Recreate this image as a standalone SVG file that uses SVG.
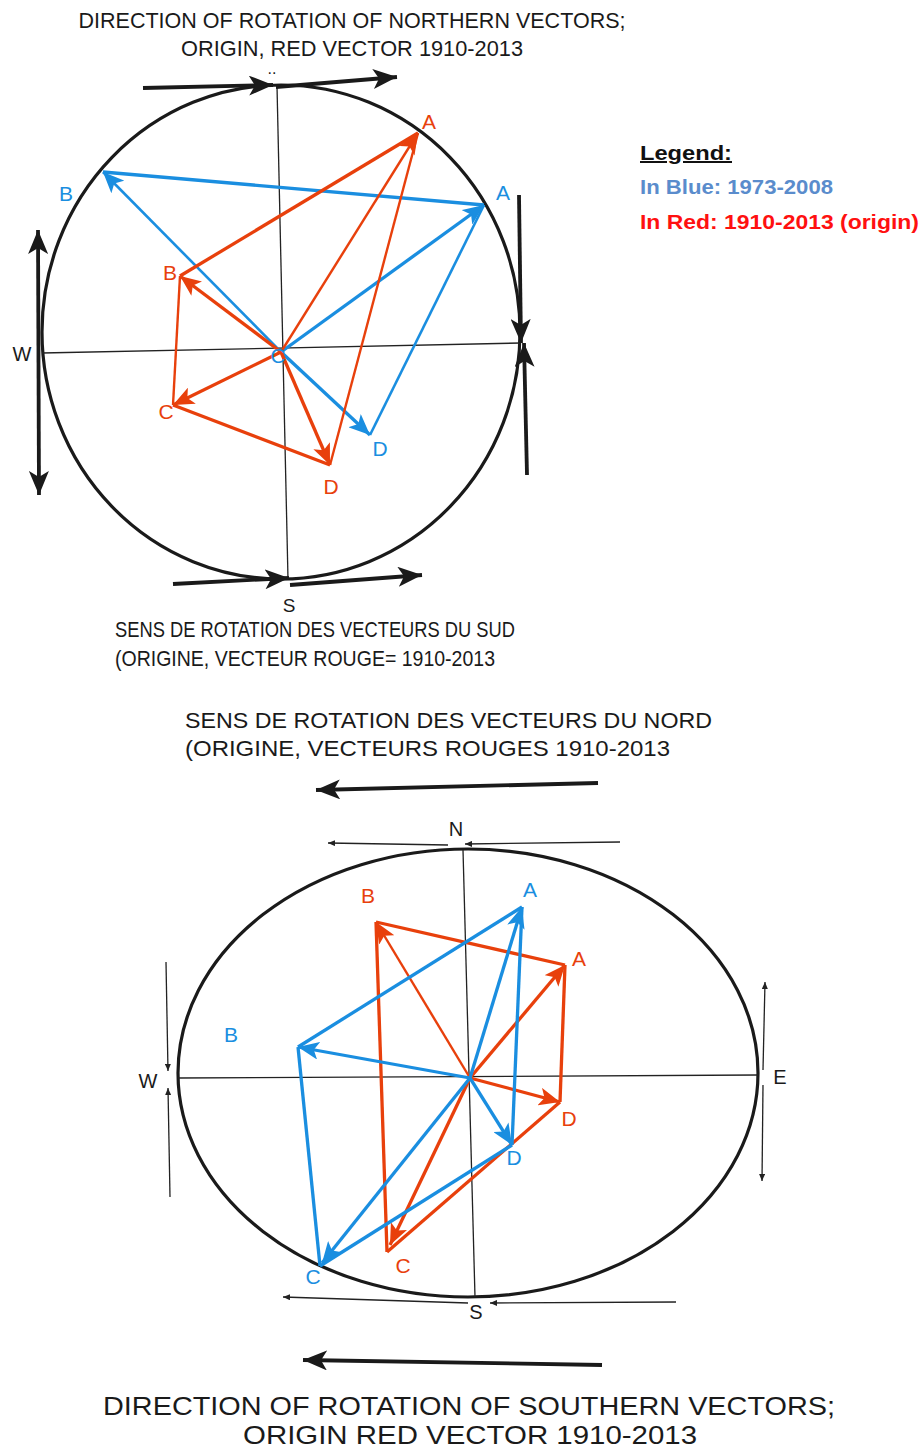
<svg xmlns="http://www.w3.org/2000/svg" width="922" height="1447" viewBox="0 0 922 1447">
<style>
.t{font-family:"Liberation Sans",Arial,sans-serif;fill:#1a1a1a}
.lbl{font-family:"Liberation Sans",Arial,sans-serif;font-size:21px;text-anchor:middle}
.rl{fill:#e8400c}.bl{fill:#1a8ee0}
.ax{stroke:#222;stroke-width:1.3;fill:none}
.circ{stroke:#1a1a1a;stroke-width:3.2;fill:none}
.big{stroke:#1a1a1a;stroke-width:3.8;fill:none}
.thin{stroke:#222;stroke-width:1.3;fill:none}
.red{stroke:#e8400c;stroke-width:3.3;fill:none}
.red2{stroke:#e8400c;stroke-width:2.4;fill:none}
.blue{stroke:#1a8ee0;stroke-width:3.3;fill:none}
.blue2{stroke:#1a8ee0;stroke-width:2.6;fill:none}
</style>
<defs>
<marker id="hb" markerUnits="userSpaceOnUse" markerWidth="26" markerHeight="20" refX="24" refY="10" orient="auto-start-reverse"><path d="M0,0 L24,10 L0,20 L6,10 Z" fill="#1a1a1a"/></marker>
<marker id="hr" markerUnits="userSpaceOnUse" markerWidth="22" markerHeight="18" refX="21" refY="9" orient="auto"><path d="M0,0 L21,9 L0,18 L5,9 Z" fill="#e8400c"/></marker>
<marker id="hbl" markerUnits="userSpaceOnUse" markerWidth="22" markerHeight="18" refX="21" refY="9" orient="auto"><path d="M0,0 L21,9 L0,18 L5,9 Z" fill="#1a8ee0"/></marker>
<marker id="hs" markerUnits="userSpaceOnUse" markerWidth="8" markerHeight="6" refX="7" refY="3" orient="auto-start-reverse"><path d="M0,0 L7,3 L0,6 Z" fill="#222"/></marker>
</defs>

<g id="titles">
<text class="t" x="352" y="28" font-size="22" text-anchor="middle" textLength="547" lengthAdjust="spacingAndGlyphs">DIRECTION OF ROTATION OF NORTHERN VECTORS;</text>
<text class="t" x="352" y="56" font-size="22" text-anchor="middle" textLength="342" lengthAdjust="spacingAndGlyphs">ORIGIN, RED VECTOR 1910-2013</text>
<text class="t" x="115" y="637" font-size="22" textLength="400" lengthAdjust="spacingAndGlyphs">SENS DE ROTATION  DES VECTEURS DU SUD</text>
<text class="t" x="115" y="666" font-size="22" textLength="380" lengthAdjust="spacingAndGlyphs">(ORIGINE, VECTEUR ROUGE= 1910-2013</text>
<text class="t" x="185" y="728" font-size="22" textLength="527" lengthAdjust="spacingAndGlyphs">SENS DE ROTATION  DES VECTEURS DU NORD</text>
<text class="t" x="185" y="756" font-size="22" textLength="485" lengthAdjust="spacingAndGlyphs">(ORIGINE, VECTEURS ROUGES 1910-2013</text>
<text class="t" x="469" y="1415" font-size="25" text-anchor="middle" textLength="732" lengthAdjust="spacingAndGlyphs">DIRECTION OF ROTATION OF SOUTHERN VECTORS;</text>
<text class="t" x="470" y="1444" font-size="25" text-anchor="middle" textLength="454" lengthAdjust="spacingAndGlyphs">ORIGIN RED VECTOR 1910-2013</text>
</g>

<g id="legend">
<text x="640" y="160" font-family="'Liberation Sans',Arial,sans-serif" font-size="20" font-weight="bold" fill="#111" text-decoration="underline" textLength="92" lengthAdjust="spacingAndGlyphs">Legend:</text>
<text x="640" y="194" font-family="'Liberation Sans',Arial,sans-serif" font-size="20" font-weight="bold" fill="#5a8ccc" textLength="193" lengthAdjust="spacingAndGlyphs">In Blue: 1973-2008</text>
<text x="640" y="229" font-family="'Liberation Sans',Arial,sans-serif" font-size="20" font-weight="bold" fill="#ff1010" textLength="279" lengthAdjust="spacingAndGlyphs">In Red: 1910-2013 (origin)</text>
</g>

<g id="north-diagram">
<ellipse class="circ" cx="281" cy="332" rx="239" ry="247"/>
<line class="ax" x1="277" y1="86" x2="288" y2="579"/>
<line class="ax" x1="42" y1="353" x2="521" y2="343"/>
<text class="t" x="272" y="74" font-size="16" text-anchor="middle">..</text>
<text class="t" x="22" y="361" font-size="20" text-anchor="middle">W</text>
<text class="t" x="289" y="612" font-size="19" text-anchor="middle">S</text>
</g>

<g id="south-diagram">
<ellipse class="circ" cx="468" cy="1073" rx="290" ry="224"/>
<line class="ax" x1="178" y1="1078" x2="758" y2="1075"/>
<line class="ax" x1="463" y1="850" x2="475" y2="1297"/>
<text class="t" x="456" y="836" font-size="20" text-anchor="middle">N</text>
<text class="t" x="148" y="1088" font-size="20" text-anchor="middle">W</text>
<text class="t" x="780" y="1084" font-size="20" text-anchor="middle">E</text>
<text class="t" x="476" y="1319" font-size="20" text-anchor="middle">S</text>
</g>

<g id="rotation-arrows">
<line class="big" x1="143" y1="88" x2="273" y2="85" marker-end="url(#hb)"/>
<line class="big" x1="276" y1="87" x2="397" y2="77" marker-end="url(#hb)"/>
<line class="big" x1="173" y1="584" x2="289" y2="578" marker-end="url(#hb)"/>
<line class="big" x1="290" y1="585" x2="422" y2="575" marker-end="url(#hb)"/>
<line class="big" x1="38" y1="230" x2="39" y2="495" marker-start="url(#hb)" marker-end="url(#hb)"/>
<line class="big" x1="519" y1="195" x2="521" y2="343" marker-end="url(#hb)"/>
<line class="big" x1="527" y1="475" x2="524" y2="343" marker-end="url(#hb)"/>
<line class="big" x1="598" y1="783" x2="316" y2="790" marker-end="url(#hb)"/>
<line class="big" x1="602" y1="1365" x2="303" y2="1360" marker-end="url(#hb)"/>
<line class="thin" x1="448" y1="845" x2="328" y2="843" marker-end="url(#hs)"/>
<line class="thin" x1="620" y1="842" x2="465" y2="844" marker-end="url(#hs)"/>
<line class="thin" x1="166" y1="962" x2="168" y2="1071" marker-end="url(#hs)"/>
<line class="thin" x1="170" y1="1197" x2="168" y2="1088" marker-end="url(#hs)"/>
<line class="thin" x1="763" y1="1070" x2="765" y2="982" marker-end="url(#hs)"/>
<line class="thin" x1="763" y1="1085" x2="762" y2="1181" marker-end="url(#hs)"/>
<line class="thin" x1="468" y1="1303" x2="283" y2="1297" marker-end="url(#hs)"/>
<line class="thin" x1="676" y1="1302" x2="490" y2="1303" marker-end="url(#hs)"/>
</g>

<g id="connectors">
<line class="blue" x1="103" y1="172" x2="484" y2="205"/>
<line class="blue2" x1="484" y1="205" x2="370" y2="435"/>
<line class="blue" x1="281" y1="352" x2="484" y2="205" marker-end="url(#hbl)"/>
<line class="blue2" x1="281" y1="352" x2="103" y2="172" marker-end="url(#hbl)"/>
<line class="blue" x1="281" y1="352" x2="370" y2="435" marker-end="url(#hbl)"/>
<line class="red" x1="180" y1="276" x2="418" y2="133"/>
<line class="red2" x1="180" y1="276" x2="173" y2="405"/>
<line class="red" x1="173" y1="405" x2="330" y2="465"/>
<line class="red2" x1="330" y1="465" x2="418" y2="133"/>
<line class="red2" x1="281" y1="352" x2="418" y2="133" marker-end="url(#hr)"/>
<line class="red" x1="281" y1="352" x2="180" y2="276" marker-end="url(#hr)"/>
<line class="red" x1="281" y1="352" x2="173" y2="405" marker-end="url(#hr)"/>
<line class="red" x1="281" y1="352" x2="330" y2="465" marker-end="url(#hr)"/>
<line class="red" x1="376" y1="922" x2="565" y2="965"/>
<line class="red" x1="565" y1="965" x2="560" y2="1102"/>
<line class="red" x1="560" y1="1102" x2="387" y2="1252"/>
<line class="red" x1="387" y1="1252" x2="376" y2="922"/>
<line class="red" x1="470" y1="1078" x2="565" y2="965" marker-end="url(#hr)"/>
<line class="red2" x1="470" y1="1078" x2="376" y2="922" marker-end="url(#hr)"/>
<line class="red" x1="470" y1="1078" x2="390" y2="1245" marker-end="url(#hr)"/>
<line class="red" x1="470" y1="1078" x2="560" y2="1102" marker-end="url(#hr)"/>
<line class="blue" x1="298" y1="1047" x2="522" y2="907"/>
<line class="blue" x1="298" y1="1047" x2="320" y2="1266"/>
<line class="blue" x1="320" y1="1266" x2="512" y2="1145"/>
<line class="blue" x1="522" y1="907" x2="512" y2="1145"/>
<line class="blue" x1="470" y1="1078" x2="522" y2="907" marker-end="url(#hbl)"/>
<line class="blue" x1="470" y1="1078" x2="298" y2="1047" marker-end="url(#hbl)"/>
<line class="blue" x1="470" y1="1078" x2="322" y2="1263" marker-end="url(#hbl)"/>
<line class="blue" x1="470" y1="1078" x2="512" y2="1145" marker-end="url(#hbl)"/>
</g>

<g id="vector-labels">
<text class="lbl rl" x="429" y="129">A</text>
<text class="lbl bl" x="503" y="200">A</text>
<text class="lbl bl" x="66" y="201">B</text>
<text class="lbl rl" x="170" y="280">B</text>
<text class="lbl rl" x="166" y="419">C</text>
<text class="lbl bl" x="278" y="363">C</text>
<text class="lbl bl" x="380" y="456">D</text>
<text class="lbl rl" x="331" y="494">D</text>
<text class="lbl bl" x="530" y="897">A</text>
<text class="lbl rl" x="368" y="903">B</text>
<text class="lbl rl" x="579" y="966">A</text>
<text class="lbl bl" x="231" y="1042">B</text>
<text class="lbl rl" x="569" y="1126">D</text>
<text class="lbl bl" x="514" y="1165">D</text>
<text class="lbl bl" x="313" y="1284">C</text>
<text class="lbl rl" x="403" y="1273">C</text>
</g>
</svg>
